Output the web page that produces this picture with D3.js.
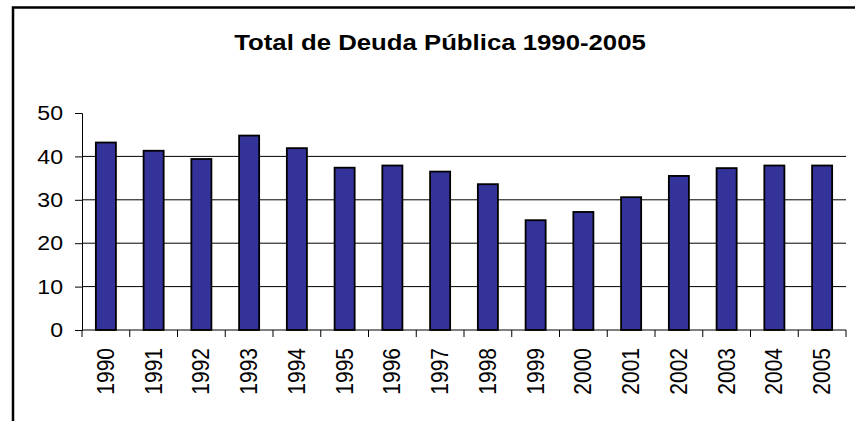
<!DOCTYPE html>
<html>
<head>
<meta charset="utf-8">
<script src="https://cdn.jsdelivr.net/npm/d3@7/dist/d3.min.js"></script>
<style>
	body { margin: 0; background: #fff; }
	svg { display: block; font-family: Arial, "Liberation Sans", sans-serif; }
</style>
</head>
<body>
<div class="plot"></div>
<script>
// Data
const years = ['1990','1991','1992','1993','1994','1995','1996','1997',
	'1998','1999','2000','2001','2002','2003','2004','2005'];
const deuda = [43.2, 41.3, 39.4, 44.8, 41.9, 37.4, 37.9, 36.5,
	33.6, 25.3, 27.2, 30.6, 35.5, 37.3, 37.9, 37.9];
const yTicks = [0, 10, 20, 30, 40, 50];
const title = 'Total de Deuda Pública 1990-2005';

const w = 855;
const h = 421;
const margin = {top: 113, right: 9, bottom: 91, left: 82};
// the reference text looks slightly stretched sideways
const stretch = 1.1;

const svg = d3.select('.plot').append('svg')
	.attr('width', w)
	.attr('height', h);

// Outer frame (only top and left edges are visible)
svg.append('path')
	.attr('d', `M13,${h} L13,7.5 L${w},7.5`)
	.attr('fill', 'none')
	.attr('stroke', '#000')
	.attr('stroke-width', 2.5);

svg.append('text')
	.attr('transform', `translate(440,50) scale(1.12,1)`)
	.attr('text-anchor', 'middle')
	.attr('font-size', 23)
	.attr('font-weight', 'bold')
	.text(title);

const x = d3.scaleBand()
	.domain(years)
	.range([margin.left, w - margin.right])
	.paddingInner(0.58)
	.paddingOuter(0.29);

const y = d3.scaleLinear()
	.domain([0, 50])
	.range([h - margin.bottom, margin.top]);

// Gridlines
svg.append('g')
	.selectAll('line')
	.data(yTicks.filter(d => d > 0 && d < 50))
	.join('line')
	.attr('x1', margin.left)
	.attr('x2', w - margin.right)
	.attr('y1', d => y(d))
	.attr('y2', d => y(d))
	.attr('stroke', '#000')
	.attr('stroke-width', 1);

// Bars
svg.append('g')
	.selectAll('rect')
	.data(deuda)
	.join('rect')
	.attr('x', (d, i) => x(years[i]))
	.attr('y', d => y(d))
	.attr('width', x.bandwidth())
	.attr('height', d => y(0) - y(d))
	.attr('fill', '#333399')
	.attr('stroke', '#000')
	.attr('stroke-width', 1.8);

// Y axis
const yAxis = svg.append('g')
	.attr('transform', `translate(${margin.left},0)`)
	.call(d3.axisLeft(y).tickValues(yTicks).tickSize(7).tickPadding(12));
yAxis.selectAll('text')
	.attr('font-size', 21)
	.attr('fill', '#000')
	.attr('font-family', 'Arial, "Liberation Sans", sans-serif')
	.attr('transform', function() {
		const xx = +d3.select(this).attr('x');
		return `translate(${xx},0) scale(${stretch},1) translate(${-xx},0)`;
	});
yAxis.select('.domain').attr('stroke', '#000');
yAxis.selectAll('.tick line').attr('stroke', '#000');

// X axis: ticks sit between categories
const bounds = years.map(d => x(d) - x.step() * x.paddingInner() / 2);
bounds.push(w - margin.right);
const xAxis = svg.append('g')
	.attr('transform', `translate(0,${y(0)})`);
xAxis.append('line')
	.attr('x1', margin.left)
	.attr('x2', w - margin.right)
	.attr('stroke', '#000');
xAxis.selectAll('.xt')
	.data(bounds)
	.join('line')
	.attr('class', 'xt')
	.attr('x1', d => d)
	.attr('x2', d => d)
	.attr('y1', 0)
	.attr('y2', 7)
	.attr('stroke', '#000');
xAxis.selectAll('text')
	.data(years)
	.join('text')
	.attr('transform', d => `translate(${x(d) + x.bandwidth() / 2 + 8},18) scale(${stretch},1) rotate(-90)`)
	.attr('text-anchor', 'end')
	.attr('font-size', 21)
	.text(d => d);
</script>
</body>
</html>
